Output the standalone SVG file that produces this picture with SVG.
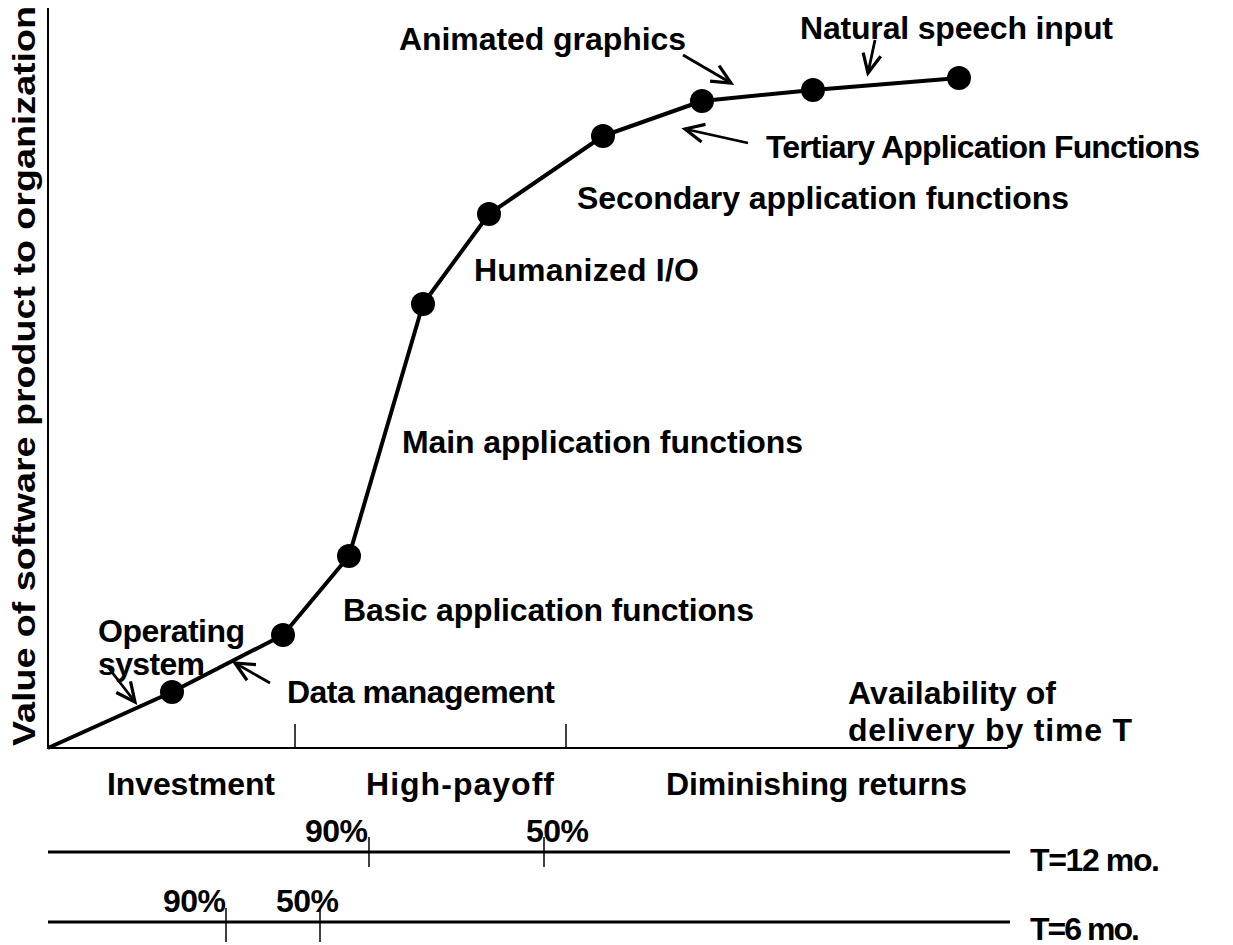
<svg xmlns="http://www.w3.org/2000/svg" width="1233" height="945" viewBox="0 0 1233 945">
<defs>
<marker id="ah" viewBox="-3 -3 26 24" refX="19" refY="9" markerWidth="26" markerHeight="24" markerUnits="userSpaceOnUse" orient="auto">
<path d="M0,0 L19,9 L0,18" fill="none" stroke="#000" stroke-width="3.2" stroke-linejoin="miter"/>
</marker>
<style>
text{font-family:"Liberation Sans",Arial,sans-serif;font-weight:bold;font-size:32px;fill:#000}
.ax{stroke:#000;stroke-width:2;fill:none}
.tl{stroke:#000;stroke-width:3;fill:none}
.tk{stroke:#000;stroke-width:1.5;fill:none}
.curve{stroke:#000;stroke-width:4;fill:none;stroke-linejoin:round}
.arr{stroke:#000;stroke-width:2.8;fill:none}
.dot{fill:#000}
</style>
</defs>
<rect width="1233" height="945" fill="#fff"/>
<g id="axes">
<line class="ax" x1="48" y1="8" x2="48" y2="748"/>
<line class="ax" x1="47" y1="748" x2="1008" y2="748"/>
<line class="tk" x1="295" y1="724" x2="295" y2="748"/>
<line class="tk" x1="566" y1="724" x2="566" y2="748"/>
<text transform="translate(35,376) rotate(-90)" text-anchor="middle" textLength="740" lengthAdjust="spacingAndGlyphs">Value of software product to organization</text>
</g>
<g id="connectors">
<polyline class="curve" points="48,748 172,692 283,635 349,556 423,304 489,214 603,136 702,101 813,90 959,78"/>
<line class="arr" x1="108" y1="667" x2="135" y2="702" marker-end="url(#ah)"/>
<line class="arr" x1="270" y1="683" x2="235" y2="663" marker-end="url(#ah)"/>
<line class="arr" x1="683" y1="55" x2="731" y2="83" marker-end="url(#ah)"/>
<line class="arr" x1="875" y1="40" x2="868" y2="73" marker-end="url(#ah)"/>
<line class="arr" x1="748" y1="143" x2="685" y2="129" marker-end="url(#ah)"/>
</g>
<g id="n1"><circle class="dot" cx="172" cy="692" r="12"/></g>
<g id="n2"><circle class="dot" cx="283" cy="635" r="12"/></g>
<g id="n3"><circle class="dot" cx="349" cy="556" r="12"/></g>
<g id="n4"><circle class="dot" cx="423" cy="304" r="12"/></g>
<g id="n5"><circle class="dot" cx="489" cy="214" r="12"/></g>
<g id="n6"><circle class="dot" cx="603" cy="136" r="12"/></g>
<g id="n7"><circle class="dot" cx="702" cy="101" r="12"/></g>
<g id="n8"><circle class="dot" cx="813" cy="90" r="12"/></g>
<g id="n9"><circle class="dot" cx="959" cy="78" r="12"/></g>
<g id="labels">
<text x="800" y="39" textLength="313">Natural speech input</text>
<text x="399" y="50" textLength="287">Animated graphics</text>
<text x="766" y="158" textLength="434">Tertiary Application Functions</text>
<text x="577" y="209" textLength="492">Secondary application functions</text>
<text x="474" y="281" textLength="225">Humanized I/O</text>
<text x="402" y="453" textLength="401">Main application functions</text>
<text x="343" y="621" textLength="411">Basic application functions</text>
<text x="98" y="642" textLength="147">Operating</text>
<text x="98" y="675" textLength="107">system</text>
<text x="287" y="703" textLength="268">Data management</text>
<text x="848" y="704" textLength="208">Availability of</text>
<text x="848" y="741" textLength="284">delivery by time T</text>
<text x="107" y="795" textLength="168">Investment</text>
<text x="366" y="795" textLength="188">High-payoff</text>
<text x="666" y="795" textLength="301">Diminishing returns</text>
</g>
<g id="timelines">
<line class="tl" x1="48" y1="852" x2="1010" y2="852"/>
<line class="tk" x1="369" y1="837" x2="369" y2="867"/>
<line class="tk" x1="544" y1="837" x2="544" y2="867"/>
<text x="305" y="842" textLength="63">90%</text>
<text x="526" y="842" textLength="63">50%</text>
<text x="1030" y="871" textLength="130">T=12 mo.</text>
<line class="tl" x1="48" y1="922" x2="1010" y2="922"/>
<line class="tk" x1="226" y1="908" x2="226" y2="942"/>
<line class="tk" x1="320" y1="908" x2="320" y2="942"/>
<text x="163" y="912" textLength="63">90%</text>
<text x="276" y="912" textLength="63">50%</text>
<text x="1030" y="940" textLength="110">T=6 mo.</text>
</g>
</svg>
